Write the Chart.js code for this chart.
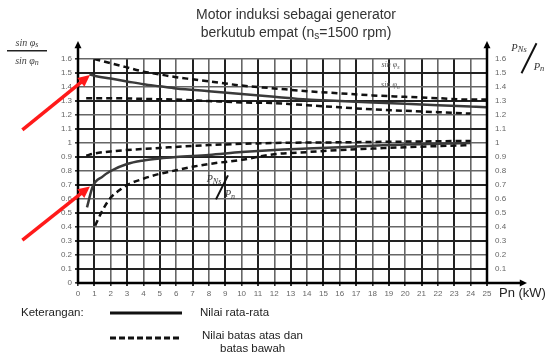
<!DOCTYPE html>
<html>
<head>
<meta charset="utf-8">
<script src="https://cdn.jsdelivr.net/npm/chart.js@4.4.0/dist/chart.umd.min.js"></script>
<style>
  body { margin: 0; background: #fff; }
  canvas { display: block; }
</style>
</head>
<body>
<canvas id="grafik" width="550" height="356"></canvas>
<script>
// Nilai (Pn dalam kW)
// kelompok atas : sin phi_s / sin phi_n  (sumbu kiri)
const xAtasRata = [0.7, 1, 2, 3, 4, 5, 6, 8, 10, 12, 14, 16, 18, 20, 22, 24, 25];
const yAtasRata = [1.49, 1.48, 1.46, 1.44, 1.42, 1.405, 1.39, 1.37, 1.35, 1.33, 1.31, 1.30, 1.29, 1.28, 1.27, 1.26, 1.255];

const xAtasMaks = [1, 2, 3, 4, 5, 6, 7, 8, 9, 10, 12, 14, 16, 18, 20, 22, 24, 25];
const yAtasMaks = [1.6, 1.57, 1.54, 1.51, 1.49, 1.47, 1.455, 1.44, 1.425, 1.41, 1.39, 1.37, 1.355, 1.34, 1.33, 1.32, 1.31, 1.31];

const xAtasMin = [0.5, 2, 4, 6, 8, 10, 12, 14, 16, 18, 20, 22, 24];
const yAtasMin = [1.32, 1.32, 1.315, 1.31, 1.30, 1.29, 1.285, 1.27, 1.255, 1.24, 1.23, 1.22, 1.21];

// kelompok bawah : P_Ns / P_n  (sumbu kanan)
const xBawahRata = [0.55, 0.9, 1.5, 2, 3, 4, 5, 6, 8, 10, 12, 14, 16, 18, 20, 22, 24];
const yBawahRata = [0.54, 0.69, 0.76, 0.80, 0.85, 0.875, 0.89, 0.90, 0.915, 0.935, 0.95, 0.96, 0.97, 0.98, 0.99, 0.995, 1.0];

const xBawahMaks = [0.5, 1, 2, 3, 5, 8, 12, 16, 20, 24];
const yBawahMaks = [0.91, 0.925, 0.94, 0.95, 0.965, 0.985, 1.0, 1.005, 1.01, 1.015];

const xBawahMin = [1.05, 1.5, 2, 2.5, 3, 4, 5, 6, 7, 8, 10, 12, 14, 16, 18, 20, 22, 24];
const yBawahMin = [0.41, 0.52, 0.61, 0.66, 0.70, 0.745, 0.78, 0.805, 0.83, 0.85, 0.88, 0.92, 0.935, 0.95, 0.96, 0.97, 0.978, 0.985];

const judul = ['Motor induksi sebagai generator', 'berkutub empat (n', 's', '=1500 rpm)'];
const teksLegenda = ['Keterangan:', 'Nilai rata-rata', 'Nilai batas atas dan', 'batas bawah'];

function gabung(xs, ys) {
    return xs.map((x, i) => ({ x: x, y: ys[i] }));
}

function seri(label, xs, ys, sumbu, putus) {
    return {
        label: label,
        data: gabung(xs, ys),
        yAxisID: sumbu,
        borderColor: putus ? '#111' : '#3a3a3a',
        borderWidth: 2.5,
        borderDash: putus ? [6, 4] : [],
        pointRadius: 0,
        fill: false,
        cubicInterpolationMode: 'monotone'
    };
}

const FONT = '"Liberation Sans", Arial, sans-serif';
const SERIF = '"Liberation Serif", "DejaVu Serif", serif';

// gambar panah (sumbu & panah merah)
function panah(ctx, x1, y1, x2, y2, warna, tebal, kepala) {
    const a = Math.atan2(y2 - y1, x2 - x1);
    ctx.save();
    ctx.strokeStyle = warna;
    ctx.fillStyle = warna;
    ctx.lineWidth = tebal;
    ctx.setLineDash([]);
    ctx.beginPath();
    ctx.moveTo(x1, y1);
    ctx.lineTo(x2 - Math.cos(a) * kepala * 0.8, y2 - Math.sin(a) * kepala * 0.8);
    ctx.stroke();
    ctx.beginPath();
    ctx.moveTo(x2, y2);
    ctx.lineTo(x2 - kepala * Math.cos(a - 0.45), y2 - kepala * Math.sin(a - 0.45));
    ctx.lineTo(x2 - kepala * Math.cos(a + 0.45), y2 - kepala * Math.sin(a + 0.45));
    ctx.closePath();
    ctx.fill();
    ctx.restore();
}

// teks dengan subskrip, dipusatkan di cx
function teksSub(ctx, utama, sub, cx, cy, ukuran) {
    ctx.font = 'italic ' + ukuran + 'px ' + SERIF;
    const w1 = ctx.measureText(utama).width;
    ctx.font = 'italic ' + (ukuran - 2) + 'px ' + SERIF;
    const w2 = ctx.measureText(sub).width;
    const x0 = cx - (w1 + w2) / 2;
    ctx.textAlign = 'left';
    ctx.textBaseline = 'middle';
    ctx.font = 'italic ' + ukuran + 'px ' + SERIF;
    ctx.fillText(utama, x0, cy);
    ctx.font = 'italic ' + (ukuran - 2) + 'px ' + SERIF;
    ctx.fillText(sub, x0 + w1, cy + 2);
}

const hiasan = {
    id: 'hiasan',
    afterDatasetsDraw(chart) {
        const ctx = chart.ctx;
        const sx = chart.scales.x;
        const sy = chart.scales.y;
        const area = chart.chartArea;
        ctx.save();
        ctx.fillStyle = '#222';

        // sumbu
        panah(ctx, area.left, area.bottom + 1, area.left, area.top - 18, '#000', 2.5, 8);
        panah(ctx, area.right, area.bottom + 1, area.right, area.top - 18, '#000', 2.5, 8);
        panah(ctx, area.left - 1, area.bottom, area.right + 40, area.bottom, '#000', 2.5, 8);

        // judul
        ctx.fillStyle = '#333';
        const fJudul = '14px ' + FONT;
        ctx.font = fJudul;
        ctx.textAlign = 'center';
        ctx.textBaseline = 'middle';
        ctx.fillText(judul[0], 296, 15);
        const w1 = ctx.measureText(judul[1]).width;
        const w3 = ctx.measureText(judul[3]).width;
        ctx.font = '10px ' + FONT;
        const w2 = ctx.measureText(judul[2]).width;
        let x0 = 296 - (w1 + w2 + w3) / 2;
        ctx.textAlign = 'left';
        ctx.font = fJudul;
        ctx.fillText(judul[1], x0, 33);
        ctx.font = '10px ' + FONT;
        ctx.fillText(judul[2], x0 + w1, 36);
        ctx.font = fJudul;
        ctx.fillText(judul[3], x0 + w1 + w2, 33);

        // label sumbu x
        ctx.font = '13px ' + FONT;
        ctx.fillStyle = '#222';
        ctx.fillText('Pn (kW)', area.right + 12, area.bottom + 10);

        // label sumbu kiri
        ctx.fillStyle = '#444';
        teksSub(ctx, 'sin φ', 's', 27, 43, 10);
        teksSub(ctx, 'sin φ', 'n', 27, 61, 10);
        ctx.fillStyle = '#222';
        ctx.fillRect(7, 50, 40, 1.5);

        // label di dalam grafik (kelompok atas)
        const lx = sx.getPixelForValue(19.1);
        ctx.fillStyle = '#555';
        teksSub(ctx, 'sin φ', 's', lx, sy.getPixelForValue(1.557), 8);
        teksSub(ctx, 'sin φ', 'n', lx, sy.getPixelForValue(1.412), 8);

        // label P_Ns / P_n (dalam grafik dan sumbu kanan)
        const pecahan = (px, py, skala) => {
            ctx.fillStyle = '#333';
            teksSub(ctx, 'P', 'Ns', px - 8 * skala, py - 7 * skala, 8 + skala * 2);
            teksSub(ctx, 'P', 'n', px + 8 * skala, py + 8 * skala, 8 + skala * 2);
            ctx.strokeStyle = '#111';
            ctx.lineWidth = 2;
            ctx.beginPath();
            ctx.moveTo(px - 6 * skala, py + 13 * skala);
            ctx.lineTo(px + 6 * skala, py - 11 * skala);
            ctx.stroke();
        };
        pecahan(sx.getPixelForValue(8.8), sy.getPixelForValue(0.69), 1);
        pecahan(529, 57, 1.25);

        // panah merah
        const merah = [[1.093, 1.486], [0.307, 0.69]];
        merah.forEach(p => {
            panah(ctx, sx.getPixelForValue(-3.4), sy.getPixelForValue(p[0]),
                sx.getPixelForValue(0.73), sy.getPixelForValue(p[1]), '#ff1a1a', 3.5, 13);
        });

        // keterangan
        ctx.fillStyle = '#222';
        ctx.font = '11.5px ' + FONT;
        ctx.textAlign = 'left';
        ctx.fillText(teksLegenda[0], 21, 313);
        ctx.fillText(teksLegenda[1], 200, 313);
        ctx.fillText(teksLegenda[2], 202, 336);
        ctx.fillText(teksLegenda[3], 220, 349);
        ctx.strokeStyle = '#111';
        ctx.lineWidth = 3;
        ctx.beginPath();
        ctx.moveTo(110, 313);
        ctx.lineTo(182, 313);
        ctx.stroke();
        ctx.setLineDash([6, 3]);
        ctx.beginPath();
        ctx.moveTo(110, 338);
        ctx.lineTo(180, 338);
        ctx.stroke();
        ctx.restore();
    }
};

function formatTick(v) {
    if (Math.abs(v) < 1e-6) return '0';
    if (Math.abs(v - 1) < 1e-6) return '1';
    return v.toFixed(1);
}

const warnaGrid = (c) => (c.index % 2 ? '#222' : '#666');
const tebalGrid = (c) => (c.index % 2 ? 2 : 1.6);

const ctx = document.getElementById('grafik').getContext('2d');
const grafik = new Chart(ctx, {
    type: 'line',
    data: {
        datasets: [
            seri('rata atas', xAtasRata, yAtasRata, 'y', false),
            seri('maks atas', xAtasMaks, yAtasMaks, 'y', true),
            seri('min atas', xAtasMin, yAtasMin, 'y', true),
            seri('rata bawah', xBawahRata, yBawahRata, 'y2', false),
            seri('maks bawah', xBawahMaks, yBawahMaks, 'y2', true),
            seri('min bawah', xBawahMin, yBawahMin, 'y2', true)
        ]
    },
    options: {
        responsive: false,
        animation: false,
        devicePixelRatio: 1,
        layout: { padding: { top: 59, left: 0, right: 0, bottom: 0 } },
        plugins: { legend: { display: false }, tooltip: { enabled: false } },
        scales: {
            x: {
                type: 'linear',
                min: 0,
                max: 25,
                ticks: { stepSize: 1, color: '#666', font: { size: 8, family: FONT }, padding: 3 },
                grid: { color: warnaGrid, lineWidth: tebalGrid, tickLength: 3, tickColor: '#333' },
                border: { display: false },
                afterFit: (s) => { s.height = 73; }
            },
            y: {
                position: 'left',
                min: 0,
                max: 1.6,
                ticks: { stepSize: 0.1, color: '#666', font: { size: 8, family: FONT }, padding: 3, callback: formatTick },
                grid: { color: warnaGrid, lineWidth: tebalGrid, tickLength: 3, tickColor: '#333' },
                border: { display: false },
                afterFit: (s) => { s.width = 78; }
            },
            y2: {
                position: 'right',
                min: 0,
                max: 1.6,
                ticks: {
                    stepSize: 0.1, color: '#666', font: { size: 8, family: FONT }, padding: 8,
                    callback: (v) => (Math.abs(v) < 1e-6 ? '' : formatTick(v))
                },
                grid: { display: false, drawTicks: false },
                border: { display: false },
                afterFit: (s) => { s.width = 63; }
            }
        }
    },
    plugins: [hiasan]
});
</script>
</body>
</html>
